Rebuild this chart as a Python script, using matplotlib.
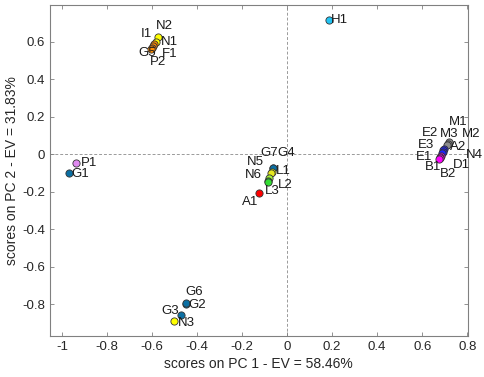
import matplotlib
matplotlib.use("Agg")
import matplotlib.pyplot as plt

plt.rcParams['font.family'] = ['Liberation Sans', 'DejaVu Sans']

labels = ['H1', 'P1', 'G1', 'G2', 'G6', 'G3', 'N3',
          'N2', 'N1', 'I1', 'F1', 'G5', 'P2',
          'G7', 'G4', 'N5', 'N6', 'L1', 'L3', 'L2', 'A1',
          'M1', 'M2', 'M3', 'E2', 'E3', 'A2', 'N4', 'E1', 'D1', 'B2', 'B1']
pc1 = [0.185, -0.938, -0.970, -0.450, -0.447, -0.472, -0.501,
       -0.573, -0.582, -0.591, -0.596, -0.600, -0.604,
       -0.064, -0.062, -0.068, -0.072, -0.079, -0.084, -0.087, -0.123,
       0.718, 0.716, 0.711, 0.698, 0.693, 0.691, 0.687, 0.682, 0.680, 0.678, 0.676]
pc2 = [0.715, -0.050, -0.103, -0.800, -0.795, -0.859, -0.891,
       0.624, 0.597, 0.587, 0.576, 0.565, 0.560,
       -0.076, -0.075, -0.094, -0.103, -0.126, -0.142, -0.147, -0.210,
       0.064, 0.056, 0.048, 0.029, 0.019, 0.011, 0.003, -0.008, -0.016, -0.021, -0.024]
colors = ['#22c4f4', '#e08af0', '#0b6fa3', '#0b6fa3', '#0b6fa3', '#0b6fa3', '#ffff00',
          '#ffff00', '#ffff00', '#ff8c00', '#ff8c00', '#e87a10', '#ff8c00',
          '#0b6fa3', '#0b6fa3', '#ffff00', '#e8e820', '#a6f03a', '#33dd33', '#33dd33', '#ff0000',
          '#8c8c8c', '#8c8c8c', '#8c8c8c', '#2020ff', '#2020ff', '#2020ff', '#2020ff', '#ff00ff', '#ff00ff', '#ff00ff', '#ff00ff']
# label offsets in pixels (dx right, dy down)
offsets = [(11, 0), (12.8, 0), (12, 0.7), (11.5, 1), (7.5, -11), (-10.7, -4.3), (12, 1.7),
           (5.8, -11), (13, -0.5), (-7.7, -10), (17, 7.5), (-5, 4.7), (7, 12.7),
           (-3.2, -15.6), (13.2, -14.7), (-16.7, -10), (-17.9, 1.7), (14.4, -7), (4.5, 10), (18, 3),
           (-9.6, 8.4),
           (9.8, -20.3), (22.8, -9.5), (2.3, -11), (-14, -15.5), (-17.2, -5.5), (15.8, -5.3), (33, 1.5),
           (-16.3, 1.5), (21, 8), (8.5, 16.5), (-6.5, 8.2)]

xticks = [-1, -0.8, -0.6, -0.4, -0.2, 0, 0.2, 0.4, 0.6, 0.8]
xticklabels = ['-1', '-0.8', '-0.6', '-0.4', '-0.2', '0', '0.2', '0.4', '0.6', '0.8']
yticks = [-0.8, -0.6, -0.4, -0.2, 0, 0.2, 0.4, 0.6]
yticklabels = ['-0.8', '-0.6', '-0.4', '-0.2', '0', '0.2', '0.4', '0.6']

fig = plt.figure(figsize=(4.84, 3.77), dpi=100)
ax = fig.add_axes([50/484, 41.3/377, (467.7-50)/484, (335.7-5)/377])
ax.set_xlim(-1.053, 0.802)
ax.set_ylim(-0.969, 0.795)

ax.axhline(0, color='#9a9a9a', lw=0.7, ls=(0, (3, 2)), zorder=1)
ax.axvline(0, color='#9a9a9a', lw=0.7, ls=(0, (3, 2)), zorder=1)

for lab, x, y, c, (dx, dy) in zip(labels, pc1, pc2, colors, offsets):
    ax.plot(x, y, 'o', ms=5.2, mfc=c, mec='#333333', mew=0.6, zorder=3)
    ax.annotate(lab, (x, y), xytext=(dx, -dy), textcoords='offset pixels',
                ha='center', va='center', fontsize=9.5, color='#1a1a1a', zorder=4)

ax.set_xticks(xticks)
ax.set_xticklabels(xticklabels)
ax.set_yticks(yticks)
ax.set_yticklabels(yticklabels)
ax.tick_params(direction='in', top=True, right=True, length=3, width=0.6,
               color='#808080', labelcolor='#262626', labelsize=9.5)
for s in ax.spines.values():
    s.set_color('#808080')
    s.set_linewidth(0.8)

ax.set_xlabel('scores on PC 1 - EV = 58.46%', fontsize=10, color='#262626', labelpad=3)
ax.set_ylabel('scores on PC 2 - EV = 31.83%', fontsize=10, color='#262626', labelpad=2)

fig.savefig('out.png', dpi=100)
